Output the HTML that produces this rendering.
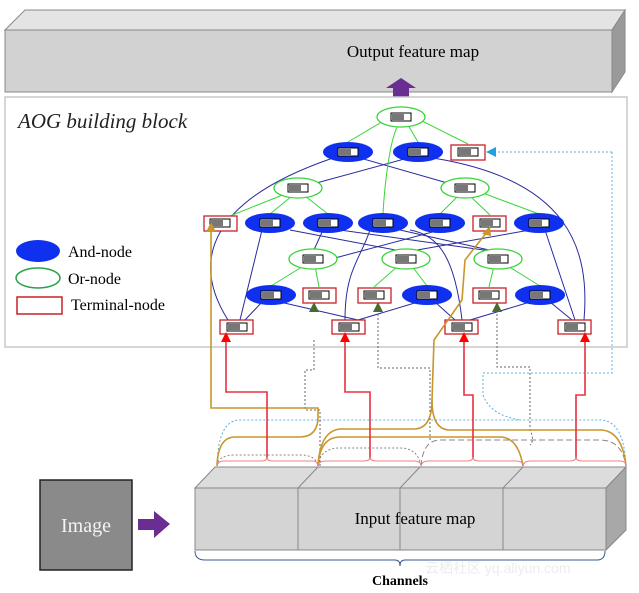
<!DOCTYPE html>
<html><head><meta charset="utf-8"><style>
html,body{margin:0;padding:0;background:#fff;}
svg{display:block;font-family:"Liberation Serif",serif;}
</style></head><body>
<svg width="639" height="593" viewBox="0 0 639 593" xmlns="http://www.w3.org/2000/svg">
<defs>
<g id="bar"><rect x="-10" y="-4" width="20" height="8" fill="#fff" stroke="#000" stroke-width="1"/><rect x="-9" y="-3" width="12" height="6" fill="#777"/></g>
</defs>
<!-- Output feature map -->
<polygon points="5,30 25,10 625,10 612,30" fill="#e4e4e4" stroke="#888"/>
<polygon points="612,30 625,10 625,72 612,92" fill="#9a9a9a" stroke="#888"/>
<rect x="5" y="30" width="607" height="62" fill="#d2d2d2" stroke="#888"/>
<text x="413" y="57" font-size="17" text-anchor="middle">Output feature map</text>
<rect x="393" y="84" width="16" height="14" fill="#6a2d91"/>
<polygon points="386,88 401,78 416,88" fill="#6a2d91"/>
<!-- AOG block -->
<rect x="5" y="97" width="622" height="250" fill="#fff" stroke="#c8c8c8" stroke-width="1.5"/>
<text x="18" y="128" font-size="21" font-style="italic" fill="#222">AOG building block</text>
<ellipse cx="38" cy="251" rx="22" ry="11" fill="#1030f0"/>
<text x="68" y="257" font-size="16">And-node</text>
<ellipse cx="38" cy="278" rx="22" ry="10" fill="#fff" stroke="#2aa04a" stroke-width="1.5"/>
<text x="68" y="284" font-size="16">Or-node</text>
<rect x="17" y="297" width="45" height="17" fill="#fff" stroke="#c8202a" stroke-width="1.5"/>
<text x="71" y="310" font-size="16">Terminal-node</text>
<!-- blue edges -->
<g fill="none" stroke="#2a2aa0" stroke-width="1">
<path d="M228,320 C190,260 210,200 333,158"/>
<path d="M584,320 C590,250 570,180 433,158"/>
<path d="M298,188 L408,158"/>
<path d="M465,188 L360,158"/>
<path d="M240,320 L262,230"/>
<path d="M245,320 L262,302"/>
<path d="M358,320 L280,302"/>
<path d="M358,320 L418,302"/>
<path d="M345,320 C345,270 360,260 370,230"/>
<path d="M462,320 C455,260 440,235 410,230"/>
<path d="M470,320 L530,302"/>
<path d="M455,320 L435,302"/>
<path d="M572,320 L550,302"/>
<path d="M575,320 L545,230"/>
<path d="M313,252 L323,230"/>
<path d="M320,262 L440,230"/>
<path d="M406,252 L290,230"/>
<path d="M406,252 L530,230"/>
<path d="M498,252 L400,230"/>
<path d="M498,252 L340,230"/>
</g>
<!-- green edges -->
<g fill="none" stroke="#3ad43a" stroke-width="1">
<path d="M348,142 L385,120"/><path d="M418,142 L408,125"/><path d="M468,144 L420,120"/>
<path d="M383,213 C385,180 390,140 398,125"/>
<path d="M230,216 L290,192"/><path d="M270,214 L292,196"/><path d="M328,214 L305,196"/>
<path d="M440,214 L458,196"/><path d="M490,215 L470,196"/><path d="M539,214 L480,192"/>
<path d="M271,286 L305,265"/><path d="M319,287 L315,266"/>
<path d="M374,287 L398,266"/><path d="M427,286 L412,266"/>
<path d="M489,287 L494,266"/><path d="M540,286 L508,266"/>
</g>
<g fill="#fff" stroke="#3ad43a" stroke-width="1.3">
<ellipse cx="401" cy="117" rx="24" ry="10"/>
<ellipse cx="298" cy="188" rx="24" ry="10"/><ellipse cx="465" cy="188" rx="24" ry="10"/>
<ellipse cx="313" cy="259" rx="24" ry="10"/><ellipse cx="406" cy="259" rx="24" ry="10"/><ellipse cx="498" cy="259" rx="24" ry="10"/>
</g>
<g fill="#1030f0">
<ellipse cx="348" cy="152" rx="25" ry="10"/><ellipse cx="418" cy="152" rx="25" ry="10"/>
<ellipse cx="270" cy="223" rx="25" ry="10"/><ellipse cx="328" cy="223" rx="25" ry="10"/><ellipse cx="383" cy="223" rx="25" ry="10"/><ellipse cx="440" cy="223" rx="25" ry="10"/><ellipse cx="539" cy="223" rx="25" ry="10"/>
<ellipse cx="271" cy="295" rx="25" ry="10"/><ellipse cx="427" cy="295" rx="25" ry="10"/><ellipse cx="540" cy="295" rx="25" ry="10"/>
</g>
<g fill="#fff" stroke="#c8202a" stroke-width="1.3">
<rect x="451" y="145" width="34" height="15"/>
<rect x="204" y="216" width="33" height="15"/><rect x="473" y="216" width="33" height="15"/>
<rect x="303" y="288" width="33" height="15"/><rect x="358" y="288" width="33" height="15"/><rect x="473" y="288" width="33" height="15"/>
<rect x="220" y="320" width="33" height="14"/><rect x="332" y="320" width="33" height="14"/><rect x="445" y="320" width="33" height="14"/><rect x="558" y="320" width="33" height="14"/>
</g>
<g>
<use href="#bar" x="401" y="117"/><use href="#bar" x="348" y="152"/><use href="#bar" x="418" y="152"/><use href="#bar" x="468" y="152"/>
<use href="#bar" x="298" y="188"/><use href="#bar" x="465" y="188"/>
<use href="#bar" x="220" y="223"/><use href="#bar" x="270" y="223"/><use href="#bar" x="328" y="223"/><use href="#bar" x="383" y="223"/><use href="#bar" x="440" y="223"/><use href="#bar" x="490" y="223"/><use href="#bar" x="539" y="223"/>
<use href="#bar" x="313" y="259"/><use href="#bar" x="406" y="259"/><use href="#bar" x="498" y="259"/>
<use href="#bar" x="271" y="295"/><use href="#bar" x="319" y="295"/><use href="#bar" x="374" y="295"/><use href="#bar" x="427" y="295"/><use href="#bar" x="489" y="295"/><use href="#bar" x="540" y="295"/>
<use href="#bar" x="237" y="327"/><use href="#bar" x="349" y="327"/><use href="#bar" x="462" y="327"/><use href="#bar" x="575" y="327"/>
</g>
<!-- bottom connectors -->
<g fill="none" stroke-width="1">
<path d="M217,466 Q218,455 235,455 L300,455 Q316,455 318,466" stroke="#888" stroke-dasharray="2,2"/>
<path d="M318,466 Q320,448 340,448 L400,448 Q418,448 421,466" stroke="#888" stroke-dasharray="2,2"/>
<path d="M217,466 Q218,420 240,420 L600,420 Q624,420 626,466" stroke="#5ab0e0" stroke-dasharray="2,2"/>
<path d="M421,466 Q423,440 440,440 L600,440 Q622,440 626,466" stroke="#888" stroke-dasharray="6,3"/>
<path d="M314,340 L314,370 L305,370 L305,410 L320,410 L320,466" stroke="#666" stroke-dasharray="2,2"/>
<path d="M378,310 L378,368 L430,368 L430,440" stroke="#666" stroke-dasharray="2,2"/>
<path d="M497,310 L497,367 L530,367 L530,430 Q535,440 530,445" stroke="#666" stroke-dasharray="2,2"/>
<path d="M612,152 L612,373 L483,373 L483,395 Q490,415 520,420" stroke="#5ab0e0" stroke-dasharray="2,2"/>
<path d="M490,152 L612,152" stroke="#5ab0e0" stroke-dasharray="2,2"/>
</g>
<polygon points="486,152 496,147 496,157" fill="#22a0e0"/>
<g fill="none" stroke="#c8962a" stroke-width="1.6">
<path d="M211,232 L211,408 L318,408 L318,420 Q316,437 300,437 L235,437 Q218,437 217,466"/>
<path d="M487,232 L465,260 L462,300 L434,340 L432,400 Q432,428 415,429 L340,429 Q320,431 318,466"/>
<path d="M432,400 Q432,430 450,430 L600,430 Q622,430 626,466"/>
<path d="M318,466 Q320,437 340,437 L500,437 Q518,437 523,466"/>
</g>
<polygon points="206,232 211,222 216,232" fill="#c8962a"/>
<polygon points="482,234 490,226 491,236" fill="#c8962a"/>
<g fill="none" stroke="#e83040" stroke-width="1.6">
<path d="M226,340 L226,392 L267,392 L267,459"/>
<path d="M345,340 L345,392 L370,392 L370,459"/>
<path d="M464,340 L464,395 L473,395 L473,459"/>
<path d="M585,340 L585,395 L576,395 L576,459"/>
</g>
<g fill="none" stroke="#f08080" stroke-width="1">
<path d="M217,466 Q218,461 224,461 L262,461 Q267,461 267,457 Q267,461 272,461 L312,461 Q318,461 318,466"/>
<path d="M318,466 Q319,461 326,461 L364,461 Q370,461 370,457 Q370,461 376,461 L414,461 Q421,461 421,466"/>
<path d="M421,466 Q422,461 428,461 L467,461 Q473,461 473,457 Q473,461 479,461 L516,461 Q523,461 523,466"/>
<path d="M523,466 Q524,461 530,461 L570,461 Q576,461 576,457 Q576,461 582,461 L620,461 Q626,461 626,466"/>
</g>
<g fill="#f00"><polygon points="221,342 226,332 231,342"/><polygon points="340,342 345,332 350,342"/><polygon points="459,342 464,332 469,342"/><polygon points="580,342 585,332 590,342"/></g>
<g fill="#4a6a30"><polygon points="309,312 314,302 319,312"/><polygon points="373,312 378,302 383,312"/><polygon points="492,312 497,302 502,312"/></g>
<!-- Input feature map -->
<polygon points="195,488 215,467 626,467 606,488" fill="#dcdcdc" stroke="#888"/>
<polygon points="606,488 626,467 626,530 606,550" fill="#a8a8a8" stroke="#888"/>
<rect x="195" y="488" width="411" height="62" fill="#d4d4d4" stroke="#888"/>
<g stroke="#888"><line x1="298" y1="488" x2="298" y2="550"/><line x1="400" y1="488" x2="400" y2="550"/><line x1="503" y1="488" x2="503" y2="550"/>
<line x1="298" y1="488" x2="318" y2="467"/><line x1="400" y1="488" x2="420" y2="467"/><line x1="503" y1="488" x2="523" y2="467"/></g>
<text x="415" y="524" font-size="17" text-anchor="middle">Input feature map</text>
<path d="M195,551 Q195,560 205,560 L395,560 Q400,560 400,566 Q400,560 405,560 L597,560 Q605,560 605,551" fill="none" stroke="#3a5a8a"/>
<text x="400" y="585" font-size="14" font-weight="bold" text-anchor="middle">Channels</text>
<text x="425" y="573" font-size="14" fill="#ececec" font-family="Liberation Sans,Noto Sans CJK SC,sans-serif">云栖社区 yq.aliyun.com</text>
<!-- Image -->
<rect x="40" y="480" width="92" height="90" fill="#8a8a8a" stroke="#222" stroke-width="1.5"/>
<text x="86" y="532" font-size="20" fill="#f4f4f4" text-anchor="middle">Image</text>
<rect x="138" y="519" width="18" height="11" fill="#6a2d91"/>
<polygon points="154,511 170,524 154,538" fill="#6a2d91"/>
</svg>
</body></html>
